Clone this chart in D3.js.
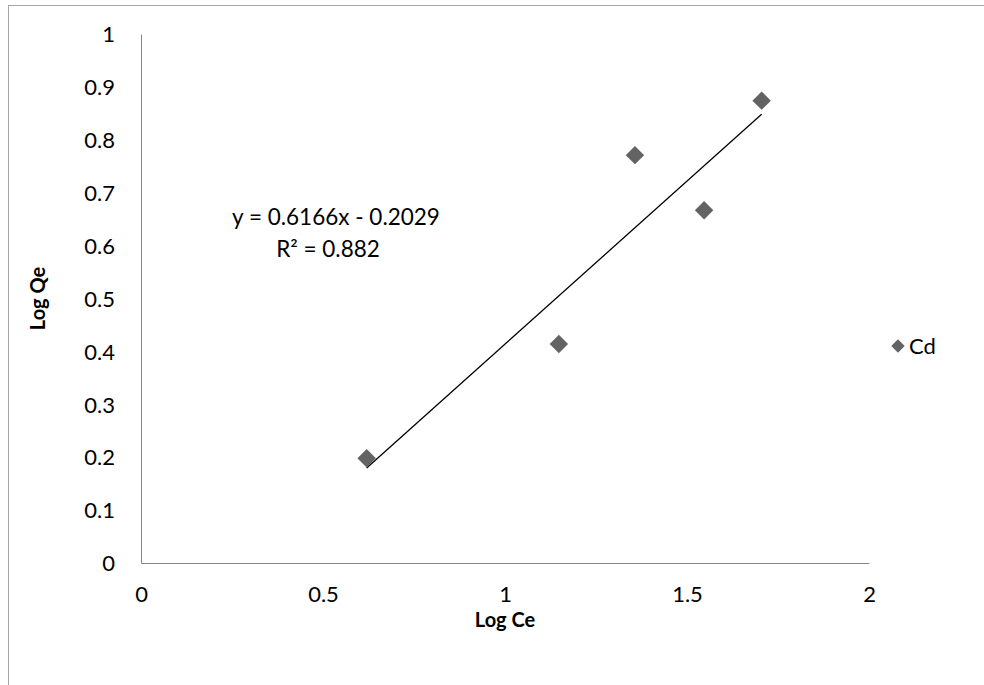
<!DOCTYPE html>
<html>
<head>
<meta charset="utf-8">
<script src="https://cdn.jsdelivr.net/npm/d3@7"></script>
<style>
  html, body { margin: 0; padding: 0; background: #fff; }
  svg { display: block; }
  text { font-family: Lato, "Open Sans", sans-serif; fill: #000; }
</style>
</head>
<body>
<svg id="chart" width="984" height="685"></svg>
<script>
// Freundlich isotherm data for Cd
const logCe = [0.620, 1.148, 1.357, 1.547, 1.705];
const logQe = [0.198, 0.414, 0.771, 0.667, 0.874];
const seriesName = "Cd";
const slope = 0.6166, intercept = -0.2029, r2 = 0.882;
const xTicks = [0, 0.5, 1, 1.5, 2];
const yTicks = [0, 0.1, 0.2, 0.3, 0.4, 0.5, 0.6, 0.7, 0.8, 0.9, 1];

const FS = 22;
const svg = d3.select("#chart");
const plot = { left: 141, right: 869, top: 34, bottom: 563 };

const x = d3.scaleLinear().domain([0, 2]).range([plot.left, plot.right]);
const y = d3.scaleLinear().domain([0, 1]).range([plot.bottom, plot.top]);

// chart frame
svg.append("rect")
  .attr("x", 8.5).attr("y", 5.5).attr("width", 1000).attr("height", 1000)
  .attr("fill", "none").attr("stroke", "#a6a6a6").attr("stroke-width", 1);

// axes
const xAxis = svg.append("g").attr("transform", `translate(0,${plot.bottom})`)
  .call(d3.axisBottom(x).tickValues(xTicks).tickSize(0)
    .tickFormat(d => d3.format("")(d)));
const yAxis = svg.append("g").attr("transform", `translate(${plot.left},0)`)
  .call(d3.axisLeft(y).tickValues(yTicks).tickSize(0)
    .tickFormat(d => d3.format("")(d)));
[xAxis, yAxis].forEach(g => {
  g.select(".domain").attr("stroke", "#868686").attr("stroke-width", 1);
  g.selectAll("text").attr("font-size", FS).attr("font-family", "Lato, sans-serif").attr("fill", "#000");
});
xAxis.selectAll("text").attr("y", 31).attr("dy", "0.35em");
yAxis.selectAll("text").attr("x", -26).attr("dy", "0.35em");

// axis titles
svg.append("text").attr("x", x(1)).attr("y", 627)
  .attr("text-anchor", "middle").attr("font-size", FS - 2).attr("font-weight", "bold")
  .text("Log Ce");
svg.append("text")
  .attr("transform", `translate(45,${y(0.5)}) rotate(-90)`)
  .attr("text-anchor", "middle").attr("font-size", FS - 2).attr("font-weight", "bold")
  .text("Log Qe");

// linear trendline over the data range
const xMin = d3.min(logCe), xMax = d3.max(logCe);
svg.append("line")
  .attr("x1", x(xMin)).attr("y1", y(slope * xMin + intercept))
  .attr("x2", x(xMax)).attr("y2", y(slope * xMax + intercept))
  .attr("stroke", "#000").attr("stroke-width", 1.3);

// diamond markers
const diamond = d3.symbol().type(d3.symbolSquare).size(170);
svg.append("g").selectAll("path")
  .data(logCe.map((v, i) => [v, logQe[i]]))
  .join("path")
  .attr("d", diamond)
  .attr("transform", d => `translate(${x(d[0])},${y(d[1])}) rotate(45)`)
  .attr("fill", "#636363");

// trendline equation
svg.append("text").attr("x", 336).attr("y", 225)
  .attr("text-anchor", "middle").attr("font-size", FS + 0.5)
  .text(`y = ${slope}x - ${Math.abs(intercept)}`);
svg.append("text").attr("x", 328).attr("y", 257)
  .attr("text-anchor", "middle").attr("font-size", FS + 0.5)
  .text(`R² = ${r2}`);

// legend
const legend = svg.append("g").attr("transform", "translate(898,346)");
legend.append("path").attr("d", d3.symbol().type(d3.symbolSquare).size(90))
  .attr("transform", "rotate(45)").attr("fill", "#636363");
legend.append("text").attr("x", 11).attr("y", 0).attr("dy", "0.35em")
  .attr("font-size", FS).text(seriesName);
</script>
</body>
</html>
